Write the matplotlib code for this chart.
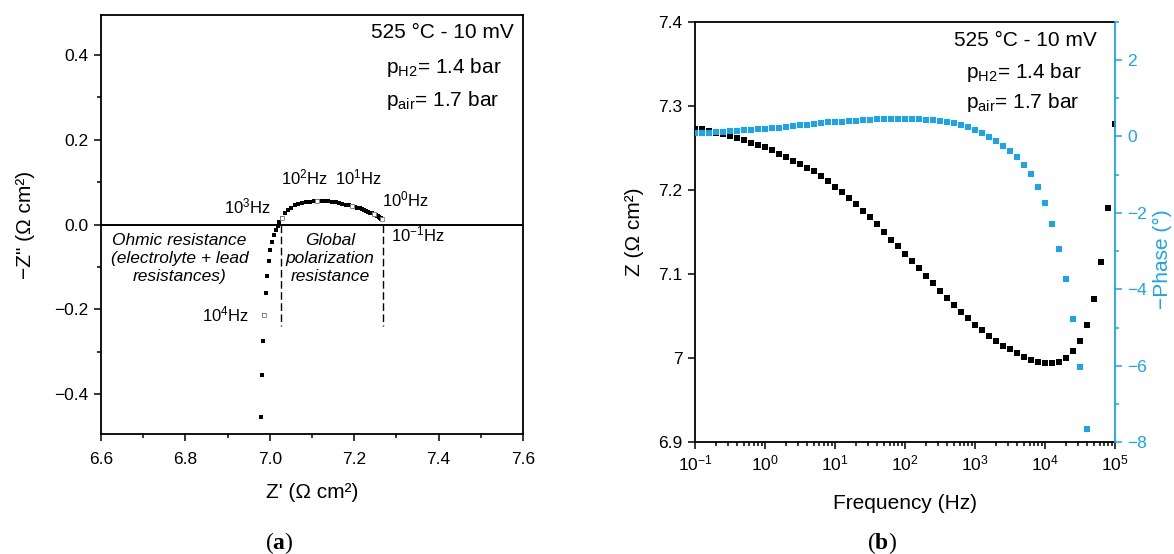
import numpy as np
import matplotlib
matplotlib.use("Agg")
import matplotlib.pyplot as plt
from matplotlib.ticker import MultipleLocator, FuncFormatter, LogLocator, NullFormatter

plt.rcParams['font.family'] = 'Liberation Sans'
plt.rcParams['mathtext.fontset'] = 'custom'
plt.rcParams['mathtext.rm'] = 'Liberation Sans'
plt.rcParams['mathtext.it'] = 'Liberation Sans:italic'
plt.rcParams['mathtext.bf'] = 'Liberation Serif:bold'

BLUE = '#19a4ee'

# frequency sweep, high to low (Hz), 10 points per decade
freq_hz = [100000, 79433, 63096, 50119, 39811, 31623, 25119, 19953, 15849, 12589,
           10000, 7943, 6310, 5012, 3981, 3162, 2512, 1995, 1585, 1259,
           1000, 794.3, 631.0, 501.2, 398.1, 316.2, 251.2, 199.5, 158.5, 125.9,
           100, 79.43, 63.10, 50.12, 39.81, 31.62, 25.12, 19.95, 15.85, 12.59,
           10, 7.943, 6.310, 5.012, 3.981, 3.162, 2.512, 1.995, 1.585, 1.259,
           1, 0.7943, 0.6310, 0.5012, 0.3981, 0.3162, 0.2512, 0.1995, 0.1585, 0.1259,
           0.1]

# |Z| (ohm cm2)
z_mod = [7.278, 7.179, 7.114, 7.070, 7.039, 7.020, 7.008, 7.000, 6.996, 6.994,
         6.994, 6.995, 6.998, 7.001, 7.006, 7.011, 7.015, 7.021, 7.026, 7.033,
         7.040, 7.048, 7.055, 7.063, 7.072, 7.080, 7.089, 7.098, 7.107, 7.116,
         7.124, 7.133, 7.141, 7.150, 7.159, 7.168, 7.175, 7.183, 7.190, 7.197,
         7.204, 7.211, 7.216, 7.222, 7.226, 7.231, 7.235, 7.239, 7.243, 7.247,
         7.251, 7.253, 7.256, 7.259, 7.262, 7.264, 7.266, 7.268, 7.270, 7.272,
         7.273]

# -phase (deg), from 10^4.6 Hz down (higher frequencies fall below -8)
phase_freq = freq_hz[4:]
neg_phase = [-7.66, -6.04, -4.77, -3.73, -2.94, -2.29, -1.74, -1.32, -0.99, -0.74,
             -0.55, -0.39, -0.245, -0.125, -0.02, 0.085, 0.17, 0.245, 0.30, 0.34,
             0.374, 0.40, 0.423, 0.44, 0.446, 0.45, 0.455, 0.455, 0.45, 0.446,
             0.443, 0.436, 0.426, 0.416, 0.404, 0.386, 0.374, 0.365, 0.346, 0.326,
             0.308, 0.289, 0.267, 0.244, 0.229, 0.21, 0.195, 0.183, 0.175, 0.157,
             0.15, 0.13, 0.12, 0.105, 0.10, 0.09, 0.09]

# Nyquist points, from 10^4.3 Hz down
nyq_freq = freq_hz[7:]
z_re = [6.979, 6.982, 6.984, 6.987, 6.990, 6.993, 6.997, 7.001, 7.006, 7.011,
        7.015, 7.019, 7.023, 7.028, 7.0355, 7.043, 7.051, 7.060, 7.068, 7.077,
        7.086, 7.095, 7.104, 7.112, 7.121, 7.130, 7.139, 7.148, 7.157, 7.164,
        7.172, 7.180, 7.187, 7.194, 7.201, 7.207, 7.213, 7.218, 7.223, 7.228,
        7.233, 7.237, 7.242, 7.246, 7.249, 7.252, 7.254, 7.257, 7.259, 7.261,
        7.263, 7.264, 7.266, 7.267]
z_im_neg = [-0.453, -0.355, -0.275, -0.212, -0.162, -0.121, -0.087, -0.061, -0.040, -0.024,
            -0.013, -0.004, 0.006, 0.016, 0.026, 0.034, 0.040, 0.045, 0.048, 0.051,
            0.053, 0.054, 0.055, 0.055, 0.0555, 0.0555, 0.055, 0.054, 0.052, 0.051,
            0.049, 0.047, 0.046, 0.044, 0.042, 0.040, 0.038, 0.036, 0.034, 0.032,
            0.030, 0.028, 0.027, 0.025, 0.023, 0.022, 0.020, 0.019, 0.018, 0.016,
            0.015, 0.014, 0.013, 0.012]

decade_freqs = [1e4, 1e3, 1e2, 1e1, 1e0, 1e-1]

# resistances marked with dashed lines
r_ohmic = 7.0256
r_total = 7.2687

fig = plt.figure(figsize=(11.74, 5.54), dpi=100)
ax1 = fig.add_axes([0.0860, 0.2166, 0.3595, 0.7563])
ax2 = fig.add_axes([0.5920, 0.2016, 0.3578, 0.7592])
ax3 = ax2.twinx()

# ---- (a) Nyquist ----
ax1.axhline(0, color='black', lw=1.4, zorder=1)
ax1.plot(z_re, z_im_neg, 's', color='black', ms=3.5, mew=0, zorder=3)
nf = np.array(nyq_freq)
dec_idx = [int(np.argmin(np.abs(np.log10(nf) - np.log10(d)))) for d in decade_freqs]
ax1.plot(np.array(z_re)[dec_idx], np.array(z_im_neg)[dec_idx], 's', ms=2.9,
         mfc='white', mec='#808080', mew=0.6, zorder=4)
for r in (r_ohmic, r_total):
    ax1.plot([r, r], [0, -0.238], color='black', lw=1.0, ls=(0, (5.5, 2.5)), zorder=2)

lab_fs = 12
ax1.text(7.002, 0.027, r'10$^{3}$Hz', fontsize=lab_fs, ha='right', va='baseline')
ax1.text(7.0256, 0.0934, r'10$^{2}$Hz', fontsize=lab_fs, ha='left', va='baseline')
ax1.text(7.155, 0.0934, r'10$^{1}$Hz', fontsize=lab_fs, ha='left', va='baseline')
ax1.text(7.2647, 0.0424, r'10$^{0}$Hz', fontsize=lab_fs, ha='left', va='baseline')
ax1.text(7.288, -0.040, r'10$^{−1}$Hz', fontsize=lab_fs, ha='left', va='baseline')
ax1.text(6.951, -0.228, r'10$^{4}$Hz', fontsize=lab_fs, ha='right', va='baseline')

ax1.text(6.786, -0.079, 'Ohmic resistance\n(electrolyte + lead\nresistances)',
         fontsize=12.5, style='italic', ha='center', va='center',
         multialignment='center', linespacing=1.25)
ax1.text(7.143, -0.081, 'Global\npolarization\nresistance',
         fontsize=12.5, style='italic', ha='center', va='center',
         multialignment='center', linespacing=1.25)

ax1.set_xlim(6.6, 7.6)
ax1.set_ylim(-0.493, 0.493)
ax1.xaxis.set_major_locator(MultipleLocator(0.2))
ax1.xaxis.set_minor_locator(MultipleLocator(0.1))
ax1.yaxis.set_major_locator(MultipleLocator(0.2))
ax1.yaxis.set_minor_locator(MultipleLocator(0.1))
ax1.xaxis.set_major_formatter(FuncFormatter(lambda v, p: f'{v:.1f}'))
ax1.yaxis.set_major_formatter(FuncFormatter(lambda v, p: f'{v:.1f}'.replace('-', '−')
                                            if abs(v) > 1e-9 else '0.0'))
ax1.tick_params(which='major', direction='out', length=5, width=1.1, labelsize=12.5)
ax1.tick_params(which='minor', direction='out', length=3, width=1.1)
ax1.tick_params(axis='x', which='both', pad=8)
ax1.tick_params(axis='y', which='both', pad=4)
for s in ax1.spines.values():
    s.set_linewidth(1.3)

ax1.set_xlabel("Z' (Ω cm²)", fontsize=15, va='center')
ax1.xaxis.set_label_coords(0.5, -0.140)
ax1.set_ylabel('−Z" (Ω cm²)', fontsize=15, va='center')
ax1.yaxis.set_label_coords(-0.178, 0.5)

ax1.text(0.979, 0.959, '525 °C - 10 mV', transform=ax1.transAxes, fontsize=15,
         ha='right', va='center')
ax1.text(0.675, 0.874, r'p$_{\mathregular{H2}}$= 1.4 bar', transform=ax1.transAxes,
         fontsize=15, ha='left', va='center')
ax1.text(0.675, 0.797, r'p$_{\mathregular{air}}$= 1.7 bar', transform=ax1.transAxes,
         fontsize=15, ha='left', va='center')

# ---- (b) Bode ----
ax2.plot(freq_hz, z_mod, 's', color='black', ms=3.7, mew=0, zorder=3)
ax3.plot(phase_freq, neg_phase, 's', color=BLUE, ms=3.7, mew=0, zorder=3)

ax2.set_xscale('log')
ax2.set_xlim(0.1, 1e5)
ax2.set_ylim(6.9, 7.4)
ax3.set_ylim(-8, 3)
ax2.xaxis.set_major_locator(LogLocator(base=10, numticks=12))
ax2.xaxis.set_minor_locator(LogLocator(base=10, subs=np.arange(2, 10), numticks=12))
ax2.xaxis.set_minor_formatter(NullFormatter())
ax2.yaxis.set_major_locator(MultipleLocator(0.1))
ax2.yaxis.set_major_formatter(FuncFormatter(lambda v, p: f'{v:g}'))
ax3.yaxis.set_major_locator(MultipleLocator(2))
ax3.yaxis.set_minor_locator(MultipleLocator(1))

ax2.tick_params(which='major', direction='out', length=5, width=1.1, labelsize=12.5)
ax2.tick_params(which='minor', direction='out', length=3, width=1.1)
ax2.tick_params(axis='x', which='both', pad=3)
ax2.tick_params(axis='y', which='both', pad=4)
ax3.tick_params(which='major', direction='out', length=5, width=1.1, labelsize=12.5,
                colors=BLUE, pad=4)
ax3.tick_params(which='minor', direction='out', length=3, width=1.1, colors=BLUE)

for s in ax2.spines.values():
    s.set_linewidth(1.3)
ax2.spines['right'].set_visible(False)
for k in ('left', 'top', 'bottom'):
    ax3.spines[k].set_visible(False)
ax3.spines['right'].set_color(BLUE)
ax3.spines['right'].set_linewidth(1.3)

ax2.set_xlabel('Frequency (Hz)', fontsize=15, va='center')
ax2.xaxis.set_label_coords(0.5, -0.145)
ax2.set_ylabel('Z (Ω cm²)', fontsize=15, va='center')
ax2.yaxis.set_label_coords(-0.145, 0.5)
ax3.set_ylabel('−Phase (°)', fontsize=15, color=BLUE, va='center', rotation=90)
ax3.yaxis.set_label_coords(1.112, 0.435)

ax2.text(0.957, 0.956, '525 °C - 10 mV', transform=ax2.transAxes, fontsize=15,
         ha='right', va='center', zorder=5)
ax2.text(0.645, 0.880, r'p$_{\mathregular{H2}}$= 1.4 bar', transform=ax2.transAxes,
         fontsize=15, ha='left', va='center', zorder=5)
ax2.text(0.645, 0.807, r'p$_{\mathregular{air}}$= 1.7 bar', transform=ax2.transAxes,
         fontsize=15, ha='left', va='center', zorder=5)

# panel letters
fig.text(279 / 1174, 0.02, r'($\mathbf{a}$)', family='Liberation Serif', fontsize=17,
         ha='center', va='center')
fig.text(882 / 1174, 0.02, r'($\mathbf{b}$)', family='Liberation Serif', fontsize=17,
         ha='center', va='center')

fig.savefig('out.png', dpi=100)
